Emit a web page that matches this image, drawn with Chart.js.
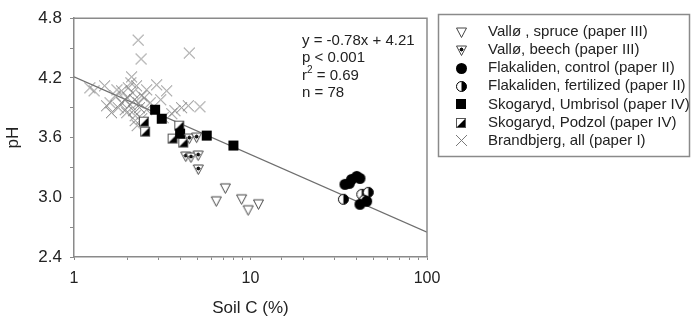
<!DOCTYPE html>
<html>
<head>
<meta charset="utf-8">
<script src="https://cdn.jsdelivr.net/npm/chart.js@4.4.1/dist/chart.umd.min.js"></script>
<style>
  html, body { margin: 0; padding: 0; background: #fff; }
  canvas { display: block; }
</style>
</head>
<body>
<canvas id="ph_chart" width="692" height="321"></canvas>
<script>
// values (soil C in %, pH)
var spruceC = [7.2, 6.4, 8.9, 9.7, 11.1];
var sprucePH = [3.09, 2.96, 2.98, 2.87, 2.93];

var beechC = [4.5, 4.95, 4.3, 4.6, 5.05, 5.06];
var beechPH = [3.59, 3.60, 3.41, 3.40, 3.42, 3.28];

var controlC = [34.3, 36.3, 37.4, 40.0, 41.7, 41.7, 45.5];
var controlPH = [3.13, 3.14, 3.18, 3.21, 3.19, 2.93, 2.96];

var fertC = [33.6, 42.7, 46.5, 44.0];
var fertPH = [2.98, 3.03, 3.05, 2.97];

var umbrisolC = [2.88, 3.14, 3.99, 5.65, 8.0];
var umbrisolPH = [3.88, 3.79, 3.64, 3.62, 3.52];

var podzolC = [2.49, 2.53, 3.95, 3.62, 4.16];
var podzolPH = [3.76, 3.66, 3.72, 3.59, 3.55];

var brandC = [2.31, 2.40, 4.5, 1.23, 1.30, 1.49, 1.60, 1.71, 1.53, 1.78, 1.63, 1.86, 1.86, 1.94,
  2.03, 2.12, 2.08, 1.99, 2.17, 2.22, 2.22, 2.26, 2.31, 2.42, 2.42, 2.58, 2.58, 2.94, 3.35, 3.58,
  3.73, 4.07, 4.44, 5.17, 2.10, 2.00, 2.20, 2.35, 1.95, 2.15, 2.70, 3.10, 2.50, 1.75, 2.28, 3.2];
var brandPH = [4.58, 4.39, 4.45, 4.10, 4.07, 4.12, 3.95, 4.02, 3.92, 3.90, 3.85, 4.07, 3.95, 3.98,
  4.10, 4.21, 3.93, 3.85, 3.87, 3.82, 3.77, 4.12, 3.95, 4.02, 3.79, 4.08, 3.88, 4.13, 4.07, 3.84,
  3.87, 3.90, 3.92, 3.91, 4.15, 4.00, 3.98, 3.90, 3.88, 4.05, 3.95, 3.98, 4.00, 4.08, 3.72, 3.80];

// regression line end points
var fitC = [1, 100];
var fitPH = [4.21, 2.65];

var legendLabels = [
  'Vallø , spruce (paper III)',
  'Vallø, beech (paper III)',
  'Flakaliden, control (paper II)',
  'Flakaliden, fertilized (paper II)',
  'Skogaryd, Umbrisol (paper IV)',
  'Skogaryd, Podzol (paper IV)',
  'Brandbjerg, all (paper I)'
];

var AXIS_COLOR = '#8a8a8a';
var TEXT_COLOR = '#222';
var FONT = "'Liberation Sans', Arial, sans-serif";

function makeMarker(size, draw) {
  var c = document.createElement('canvas');
  c.width = size;
  c.height = size;
  draw(c.getContext('2d'), size);
  return c;
}

function downTriangle(ctx) {
  ctx.beginPath();
  ctx.moveTo(1.5, 2);
  ctx.lineTo(11.5, 2);
  ctx.lineTo(6.5, 11.5);
  ctx.closePath();
}

var spruceMarker = makeMarker(13, function (ctx) {
  downTriangle(ctx);
  ctx.fillStyle = '#fff';
  ctx.fill();
  ctx.strokeStyle = '#444';
  ctx.lineWidth = 1;
  ctx.stroke();
});

var beechMarker = makeMarker(13, function (ctx) {
  downTriangle(ctx);
  ctx.fillStyle = '#fff';
  ctx.fill();
  ctx.strokeStyle = '#444';
  ctx.lineWidth = 1;
  ctx.stroke();
  ctx.strokeStyle = '#111';
  ctx.beginPath();
  ctx.moveTo(4.5, 5.5); ctx.lineTo(8.5, 5.5);
  ctx.moveTo(6.5, 3.5); ctx.lineTo(6.5, 7.5);
  ctx.moveTo(5, 4); ctx.lineTo(8, 7);
  ctx.moveTo(8, 4); ctx.lineTo(5, 7);
  ctx.stroke();
});

var controlMarker = makeMarker(13, function (ctx) {
  ctx.beginPath();
  ctx.arc(6.5, 6.5, 5.5, 0, Math.PI * 2);
  ctx.fillStyle = '#000';
  ctx.fill();
});

var fertMarker = makeMarker(13, function (ctx) {
  ctx.beginPath();
  ctx.arc(6.5, 6.5, 5, 0, Math.PI * 2);
  ctx.fillStyle = '#fff';
  ctx.fill();
  ctx.beginPath();
  ctx.arc(6.5, 6.5, 5, -Math.PI / 2, Math.PI / 2);
  ctx.closePath();
  ctx.fillStyle = '#000';
  ctx.fill();
  ctx.beginPath();
  ctx.arc(6.5, 6.5, 5, 0, Math.PI * 2);
  ctx.strokeStyle = '#000';
  ctx.lineWidth = 1;
  ctx.stroke();
});

var umbrisolMarker = makeMarker(12, function (ctx) {
  ctx.fillStyle = '#000';
  ctx.fillRect(1, 1, 10, 10);
});

var podzolMarker = makeMarker(12, function (ctx) {
  ctx.fillStyle = '#fff';
  ctx.fillRect(1, 1, 10, 10);
  ctx.beginPath();
  ctx.moveTo(11, 1);
  ctx.lineTo(11, 11);
  ctx.lineTo(1, 11);
  ctx.closePath();
  ctx.fillStyle = '#000';
  ctx.fill();
  ctx.strokeStyle = '#555';
  ctx.lineWidth = 1;
  ctx.strokeRect(1.5, 1.5, 9, 9);
});

var crossMarker = makeMarker(13, function (ctx) {
  ctx.strokeStyle = '#7a7a7a';
  ctx.lineWidth = 1;
  ctx.beginPath();
  ctx.moveTo(1, 1); ctx.lineTo(12, 12);
  ctx.moveTo(12, 1); ctx.lineTo(1, 12);
  ctx.stroke();
});

var markers = [spruceMarker, beechMarker, controlMarker, fertMarker, umbrisolMarker, podzolMarker, crossMarker];

function toPoints(xs, ys) {
  return xs.map(function (x, i) {
    return {x: x, y: ys[i]};
  });
}

function scatterSet(label, xs, ys, marker) {
  return {
    label: label,
    data: toPoints(xs, ys),
    pointStyle: marker,
    pointRadius: 5,
    pointHoverRadius: 5,
    showLine: false
  };
}

// legend box, plot frame and the regression statistics
var decorations = {
  id: 'decorations',
  afterDraw: function (chart) {
    var ctx = chart.ctx;
    var area = chart.chartArea;
    ctx.save();

    ctx.strokeStyle = AXIS_COLOR;
    ctx.lineWidth = 1.5;
    ctx.beginPath();
    ctx.moveTo(area.left, area.top);
    ctx.lineTo(area.right, area.top);
    ctx.lineTo(area.right, area.bottom);
    ctx.stroke();

    ctx.fillStyle = TEXT_COLOR;
    ctx.font = '15px ' + FONT;
    ctx.textBaseline = 'alphabetic';
    ctx.textAlign = 'left';
    var tx = 302;
    ctx.fillText('y = -0.78x + 4.21', tx, 45);
    ctx.fillText('p < 0.001', tx, 62);
    ctx.fillText('r', tx, 80);
    var rw = ctx.measureText('r').width;
    ctx.font = '10px ' + FONT;
    ctx.fillText('2', tx + rw, 73);
    var sw = ctx.measureText('2').width;
    ctx.font = '15px ' + FONT;
    ctx.fillText(' = 0.69', tx + rw + sw, 80);
    ctx.fillText('n = 78', tx, 97);

    // legend
    ctx.strokeStyle = AXIS_COLOR;
    ctx.lineWidth = 1.5;
    ctx.strokeRect(438.5, 14.5, 251, 142);
    ctx.textBaseline = 'middle';
    for (var i = 0; i < legendLabels.length; i++) {
      var rowY = 32 + i * 18.1;
      var m = markers[i];
      ctx.drawImage(m, Math.round(461 - m.width / 2), Math.round(rowY - m.height / 2));
      ctx.fillStyle = TEXT_COLOR;
      ctx.fillText(legendLabels[i], 488, rowY);
    }
    ctx.restore();
  }
};

function isDecade(value) {
  var e = Math.log10(value);
  return Math.abs(e - Math.round(e)) < 1e-6;
}

new Chart(document.getElementById('ph_chart'), {
  type: 'scatter',
  data: {
    datasets: [
      scatterSet(legendLabels[0], spruceC, sprucePH, spruceMarker),
      scatterSet(legendLabels[1], beechC, beechPH, beechMarker),
      scatterSet(legendLabels[2], controlC, controlPH, controlMarker),
      scatterSet(legendLabels[3], fertC, fertPH, fertMarker),
      scatterSet(legendLabels[4], umbrisolC, umbrisolPH, umbrisolMarker),
      scatterSet(legendLabels[5], podzolC, podzolPH, podzolMarker),
      scatterSet(legendLabels[6], brandC, brandPH, crossMarker),
      {
        type: 'line',
        label: 'fit',
        data: toPoints(fitC, fitPH),
        borderColor: '#6e6e6e',
        borderWidth: 1.2,
        pointRadius: 0,
        fill: false,
        tension: 0
      }
    ]
  },
  options: {
    responsive: false,
    devicePixelRatio: 1,
    animation: false,
    layout: {
      padding: {top: 14, right: 265, bottom: 0, left: 0}
    },
    plugins: {
      legend: {display: false},
      tooltip: {enabled: false}
    },
    scales: {
      x: {
        type: 'logarithmic',
        min: 1,
        max: 100,
        afterFit: function (scale) { scale.height = 64; },
        grid: {drawOnChartArea: false, drawTicks: true, tickLength: 3, color: AXIS_COLOR},
        border: {color: AXIS_COLOR, width: 1.5},
        ticks: {
          autoSkip: false,
          maxRotation: 0,
          padding: 9,
          color: TEXT_COLOR,
          font: {family: FONT, size: 16},
          callback: function (value) {
            return isDecade(value) ? String(Math.round(value)) : '';
          }
        },
        title: {
          display: true,
          text: 'Soil C (%)',
          color: TEXT_COLOR,
          font: {family: FONT, size: 17},
          padding: {top: 0, bottom: 2}
        }
      },
      y: {
        min: 2.4,
        max: 4.8,
        afterFit: function (scale) { scale.width = 74; },
        grid: {drawOnChartArea: false, drawTicks: true, tickLength: 4, color: AXIS_COLOR},
        border: {color: AXIS_COLOR, width: 1.5},
        ticks: {
          stepSize: 0.3,
          padding: 8,
          color: TEXT_COLOR,
          font: {family: FONT, size: 17},
          callback: function (value) {
            return Math.round(value * 10) % 6 === 0 ? value.toFixed(1) : '';
          }
        },
        title: {
          display: true,
          text: 'pH',
          color: TEXT_COLOR,
          font: {family: FONT, size: 17},
          padding: {top: 3, bottom: 0}
        }
      }
    }
  },
  plugins: [decorations]
});
</script>
</body>
</html>
